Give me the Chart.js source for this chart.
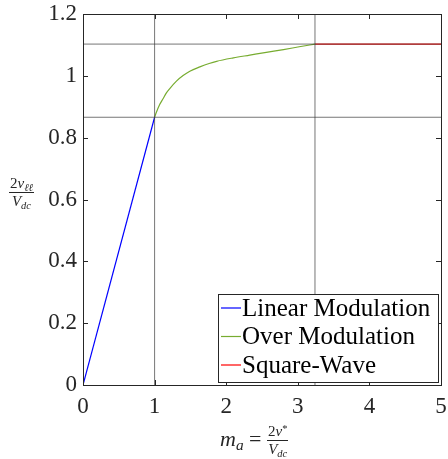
<!DOCTYPE html>
<html><head><meta charset="utf-8">
<script src="https://cdn.jsdelivr.net/npm/chart.js@4"></script>
<style>
html,body{margin:0;padding:0;background:#fff;}
#wrap{position:relative;width:448px;height:459px;overflow:hidden;}
#c{position:absolute;left:0;top:0;}
.lbl{position:absolute;font-family:"Liberation Serif","Times New Roman",serif;color:#262626;white-space:nowrap;line-height:1;}
.frac{display:inline-flex;flex-direction:column;align-items:center;vertical-align:middle;}
.frac .num{border-bottom:1px solid #262626;padding:0 1px 1px 1px;line-height:1;}
.frac .den{line-height:1;padding-top:1px;}
.it{font-style:italic;}
.sb{font-size:70%;position:relative;top:0.3em;}
.sp{font-size:70%;position:relative;top:-0.4em;}
</style></head>
<body>
<div id="wrap">
<canvas id="c" width="448" height="459"></canvas>
<div class="lbl" id="xt" style="left:220px;top:424px;font-size:22px;">
<span class="it">m</span><span class="sb it">a</span> = <span class="frac" style="font-size:15px;"><span class="num">2<span class="it">v</span><span class="sp">*</span></span><span class="den"><span class="it">V</span><span class="sb it">dc</span></span></span>
</div>
<div class="lbl" id="yt" style="left:9px;top:176px;font-size:15px;">
<span class="frac"><span class="num">2<span class="it">v</span><span class="sb it">ℓℓ</span></span><span class="den"><span class="it">V</span><span class="sb it">dc</span></span></span>
</div>
</div>
<script>
// ---- data ----
const linX = [0, 1];
const linY = [0, 0.866];
const overX = [1.00, 1.025, 1.071, 1.118, 1.165, 1.212, 1.305, 1.398, 1.492, 1.632, 1.762, 1.866, 2.10, 2.33, 2.56, 2.80, 3.02, 3.24];
const overY = [0.866, 0.882, 0.907, 0.926, 0.945, 0.959, 0.983, 1.001, 1.015, 1.029, 1.040, 1.047, 1.058, 1.067, 1.076, 1.085, 1.094, 1.1027];
const sqX = [3.24, 5];
const sqY = [1.1027, 1.1027];
const refX = [1, 3.24];          // vertical reference lines
const refY = [0.866, 1.1027];    // horizontal reference lines
const xTicks = [0, 1, 2, 3, 4, 5];
const yTicks = [0, 0.2, 0.4, 0.6, 0.8, 1, 1.2];
const yTickLabels = ['0', '0.2', '0.4', '0.6', '0.8', '1', '1.2'];
const seriesNames = ['Linear Modulation', 'Over Modulation', 'Square-Wave'];
const seriesColors = ['#0000FF', '#77AC30', '#FF0000'];

const zip = (xs, ys) => xs.map((x, i) => ({x: x, y: ys[i]}));
const refColor = 'rgba(60,60,60,0.7)';
const datasets = [
  {label: seriesNames[0], data: zip(linX, linY), borderColor: seriesColors[0], borderWidth: 1.2, pointRadius: 0, order: 1},
  {label: seriesNames[1], data: zip(overX, overY), borderColor: seriesColors[1], borderWidth: 1.2, pointRadius: 0, cubicInterpolationMode: 'monotone', order: 1},
  {label: seriesNames[2], data: zip(sqX, sqY), borderColor: seriesColors[2], borderWidth: 1.2, pointRadius: 0, order: 1}
];
refX.forEach(v => datasets.push({label: '_ref', data: [{x: v, y: 0}, {x: v, y: 1.2}], borderColor: refColor, borderWidth: 1, pointRadius: 0, order: 0}));
refY.forEach(v => datasets.push({label: '_ref', data: [{x: 0, y: v}, {x: 5, y: v}], borderColor: refColor, borderWidth: 1, pointRadius: 0, order: 0}));

const FONT = '"Liberation Serif", "Times New Roman", serif';
const AX = '#262626';

const boxPlugin = {
  id: 'boxTicks',
  afterDatasetsDraw(chart) {
    const {ctx, chartArea: a, scales} = chart;
    ctx.save();
    ctx.strokeStyle = AX;
    ctx.lineWidth = 1;
    const L = 5;
    ctx.beginPath();
    xTicks.forEach(t => {
      const p = Math.round(scales.x.getPixelForValue(t)) + 0.5;
      ctx.moveTo(p, a.bottom); ctx.lineTo(p, a.bottom - L);
      ctx.moveTo(p, a.top); ctx.lineTo(p, a.top + L);
    });
    yTicks.forEach(t => {
      const p = Math.round(scales.y.getPixelForValue(t)) + 0.5;
      ctx.moveTo(a.left, p); ctx.lineTo(a.left + L, p);
      ctx.moveTo(a.right, p); ctx.lineTo(a.right - L, p);
    });
    ctx.stroke();
    ctx.strokeRect(Math.round(a.left) + 0.5, Math.round(a.top) + 0.5, Math.round(a.right - a.left), Math.round(a.bottom - a.top));
    // legend box
    const bx = 218.5, by = 294.5, bw = 220, bh = 88;
    ctx.fillStyle = '#fff';
    ctx.fillRect(bx, by, bw, bh);
    ctx.strokeStyle = AX;
    ctx.strokeRect(bx, by, bw, bh);
    ctx.font = '25px ' + FONT;
    ctx.textBaseline = 'middle';
    ctx.textAlign = 'left';
    chart.data.datasets.slice(0, 3).forEach((d, i) => {
      const y = 308 + i * 28.5;
      ctx.strokeStyle = d.borderColor;
      ctx.lineWidth = 1.2;
      ctx.beginPath(); ctx.moveTo(221, y); ctx.lineTo(241, y); ctx.stroke();
      ctx.fillStyle = '#000';
      ctx.fillText(d.label, 242, y + 1);
    });
    ctx.restore();
  }
};

const noPad = s => { s.paddingTop = 0; s.paddingBottom = 0; s.paddingLeft = 0; s.paddingRight = 0; };

new Chart(document.getElementById('c'), {
  type: 'line',
  data: {datasets: datasets},
  plugins: [boxPlugin],
  options: {
    responsive: false,
    animation: false,
    layout: {padding: {left: 0, top: 14, right: 7, bottom: 0}},
    plugins: {legend: {display: false}, tooltip: {enabled: false}},
    scales: {
      x: {
        type: 'linear', min: 0, max: 5,
        afterFit: s => { s.height = 74; noPad(s); },
        afterBuildTicks: s => { s.ticks = xTicks.map(v => ({value: v})); },
        grid: {display: false, drawTicks: false},
        border: {display: false},
        ticks: {color: AX, font: {family: FONT, size: 23}, padding: 8, maxRotation: 0, callback: v => String(v)}
      },
      y: {
        type: 'linear', min: 0, max: 1.2,
        afterFit: s => { s.width = 83; noPad(s); },
        afterBuildTicks: s => { s.ticks = yTicks.map(v => ({value: v})); },
        grid: {display: false, drawTicks: false},
        border: {display: false},
        ticks: {color: AX, font: {family: FONT, size: 23}, padding: 6, callback: (v) => { const i = yTicks.indexOf(v); return i >= 0 ? yTickLabels[i] : ''; }}
      }
    }
  }
});
</script>
</body></html>
